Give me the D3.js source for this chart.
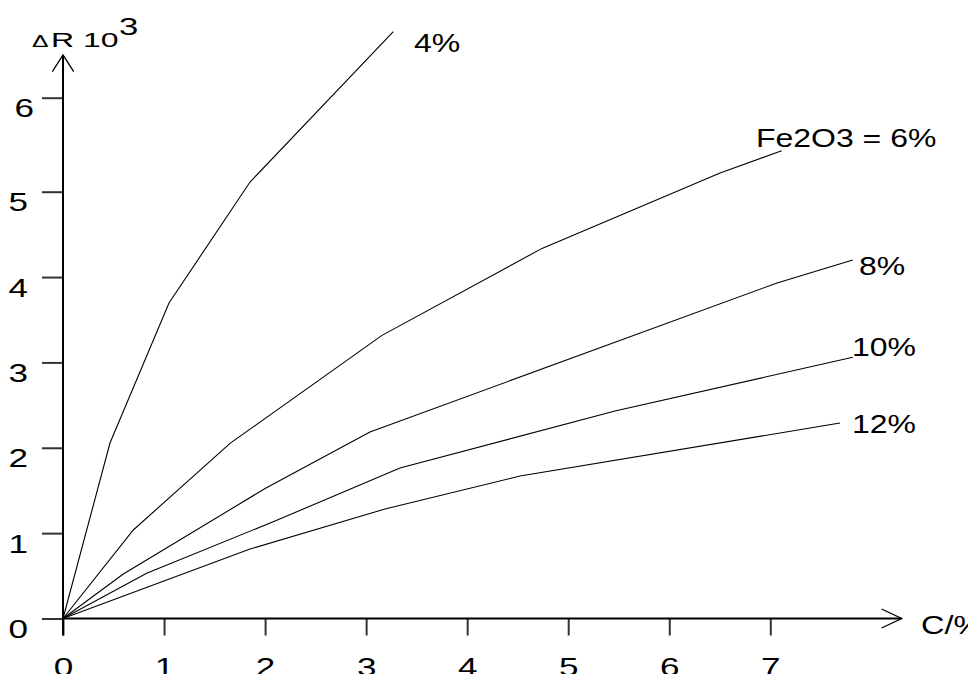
<!DOCTYPE html>
<html>
<head>
<meta charset="utf-8">
<script src="https://cdn.jsdelivr.net/npm/d3@7"></script>
<style>
  body { margin: 0; background: #fff; }
  svg { display: block; font-family: "Liberation Sans", Arial, Helvetica, sans-serif; }
</style>
</head>
<body>
<svg id="chart"></svg>
<script>
// curve names and (C, dR) vertices
const seriesNames = ['4%', 'Fe2O3 = 6%', '8%', '10%', '12%'];
const c4  = [[0, 0], [0.465, 2.056], [1.049, 3.696], [1.851, 5.103], [3.269, 6.702]];
const c6  = [[0, 0], [0.696, 1.037], [1.653, 2.052], [3.157, 3.317], [4.741, 4.336], [6.503, 5.199], [7.113, 5.436]];
const c8  = [[0, 0], [0.597, 0.521], [2.009, 1.529], [3.038, 2.185], [7.067, 3.931], [7.816, 4.2]];
const c10 = [[0, 0], [0.828, 0.53], [2.098, 1.142], [3.335, 1.763], [5.463, 2.431], [7.816, 3.06]];
const c12 = [[0, 0], [1.851, 0.814], [3.187, 1.283], [4.523, 1.669], [7.69, 2.29]];
const seriesValues = [c4, c6, c8, c10, c12];

const xTicks = [0, 1, 2, 3, 4, 5, 6, 7];
const yTicks = [0, 1, 2, 3, 4, 5, 6];
const xAxisEnd = 8.3;
const yAxisEnd = 6.454;

const width = 968, height = 674;
const svg = d3.select('#chart').attr('width', width).attr('height', height);

const x = d3.scaleLinear().domain([0, 7]).range([63, 770.3]);
// the original's 6 tick sits a little higher than the others would imply
const y = d3.scaleLinear().domain([0, 5, 6]).range([618.5, 191.7, 97.7]);

// axes
const xAxisG = svg.append('g')
    .attr('transform', `translate(0,${y(0)})`)
    .call(d3.axisBottom(x).tickValues(xTicks).tickSize(17).tickFormat(d => d))
    .call(g => g.select('.domain').remove());
xAxisG.selectAll('.tick line').attr('stroke', '#333').attr('stroke-width', 2);
xAxisG.selectAll('.tick text')
    .attr('y', null).attr('dy', null)
    .attr('fill', '#000')
    .style('font-size', '26px')
    .attr('text-anchor', 'middle')
    .attr('transform', 'translate(0,57) scale(1.35,1)');

const yAxisG = svg.append('g')
    .attr('transform', `translate(${x(0)},0)`)
    .call(d3.axisLeft(y).tickValues(yTicks).tickSize(21).tickFormat(d => d))
    .call(g => g.select('.domain').remove());
yAxisG.selectAll('.tick line').attr('stroke', '#333').attr('stroke-width', 2);
yAxisG.selectAll('.tick text')
    .attr('x', null).attr('dy', null)
    .attr('fill', '#000')
    .style('font-size', '26px')
    .attr('text-anchor', 'end')
    .attr('transform', d => `translate(${d === 6 ? -29 : -35},19) scale(1.35,1)`);

// axis lines with open arrowheads
const axisPath = svg.append('g').attr('fill', 'none').attr('stroke', '#000').attr('stroke-width', 2);
axisPath.append('line')
    .attr('x1', x(0)).attr('y1', y(0))
    .attr('x2', x(xAxisEnd)).attr('y2', y(0));
axisPath.append('polyline')
    .attr('stroke-width', 1.3)
    .attr('points', `${x(xAxisEnd) - 20},${y(0) - 9.5} ${x(xAxisEnd)},${y(0)} ${x(xAxisEnd) - 20},${y(0) + 9.5}`);
axisPath.append('line')
    .attr('x1', x(0)).attr('y1', y(0) + 17)
    .attr('x2', x(0)).attr('y2', y(yAxisEnd));
axisPath.append('polyline')
    .attr('stroke-width', 1.3)
    .attr('points', `${x(0) - 10.7},${y(yAxisEnd) + 16.7} ${x(0)},${y(yAxisEnd)} ${x(0) + 10.7},${y(yAxisEnd) + 16.7}`);

// curves
const line = d3.line().x(d => x(d[0])).y(d => y(d[1]));
svg.append('g').selectAll('path')
    .data(seriesValues)
    .join('path')
    .attr('d', line)
    .attr('fill', 'none')
    .attr('stroke', '#000')
    .attr('stroke-width', 1.1);

// stretched text helper (the source lettering is wide)
function label(txt, px, py, size, sx, anchor) {
    return svg.append('text')
        .attr('transform', `translate(${px},${py}) scale(${sx},1)`)
        .attr('text-anchor', anchor || 'start')
        .style('font-size', size + 'px')
        .attr('fill', '#000')
        .text(txt);
}

// curve labels, placed near each curve end
const labelPos = [[415, 52], [757, 147], [860, 274.5], [853, 356], [853, 433]];
seriesNames.forEach((n, i) => label(n, labelPos[i][0] - 1, labelPos[i][1], 26, 1.23));

// axis titles
label('C/%', 921, 634, 26, 1.25);
label('\u0394', 32, 47, 17, 1.45);
label('R 10', 51, 47, 20, 1.6);
label('3', 119, 35, 24, 1.45);
</script>
</body>
</html>
